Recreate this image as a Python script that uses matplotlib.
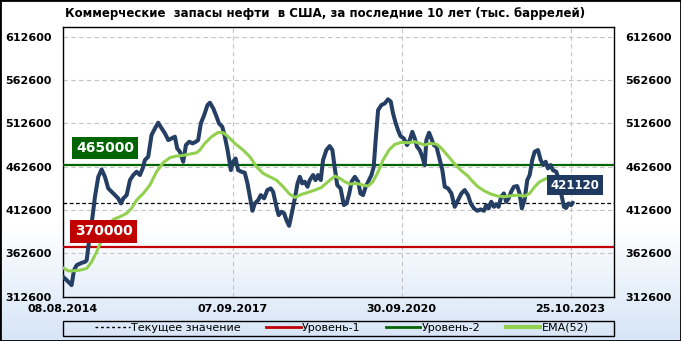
import matplotlib
matplotlib.use('Agg')
import matplotlib.pyplot as plt
import numpy as np
import pandas as pd
from matplotlib.colors import LinearSegmentedColormap
from matplotlib.lines import Line2D
from matplotlib.patches import Rectangle

plt.rcParams['font.family'] = ['DejaVu Sans']

title = "Коммерческие  запасы нефти  в США, за последние 10 лет (тыс. баррелей)"

stock_dates = [
    '2014-08-08', '2014-09-01', '2014-10-04', '2014-10-20', '2014-11-07', '2014-12-10',
    '2015-01-01', '2015-01-12', '2015-01-23', '2015-02-14', '2015-03-08', '2015-03-30', '2015-04-21',
    '2015-05-13', '2015-06-04', '2015-06-27', '2015-07-19', '2015-08-09', '2015-08-27', '2015-09-12',
    '2015-10-04', '2015-10-26', '2015-11-17', '2015-12-09', '2015-12-31',
    '2016-01-18', '2016-02-02', '2016-02-24', '2016-03-17', '2016-04-09', '2016-04-30', '2016-05-23',
    '2016-06-14', '2016-07-06', '2016-07-28', '2016-08-19', '2016-09-03', '2016-09-21', '2016-10-13',
    '2016-10-31', '2016-11-22', '2016-12-14', '2017-01-05',
    '2017-01-20', '2017-02-07', '2017-03-01', '2017-03-23', '2017-04-08', '2017-04-30', '2017-05-22',
    '2017-06-07', '2017-06-29', '2017-07-16', '2017-08-03', '2017-08-25', '2017-09-09', '2017-09-25',
    '2017-10-12', '2017-11-03', '2017-11-25', '2017-12-13', '2017-12-29',
    '2018-01-15', '2018-01-31', '2018-02-22', '2018-03-11', '2018-04-02', '2018-04-24', '2018-05-16',
    '2018-06-01', '2018-06-23', '2018-07-08', '2018-07-26', '2018-08-13', '2018-08-28', '2018-09-15',
    '2018-10-05', '2018-10-23', '2018-11-10', '2018-11-25', '2018-12-11', '2018-12-28',
    '2019-01-15', '2019-01-30', '2019-02-21', '2019-03-09', '2019-03-26', '2019-04-13', '2019-04-28',
    '2019-05-20', '2019-06-11',
    '2019-06-29', '2019-07-15', '2019-07-31', '2019-08-22', '2019-09-13', '2019-10-01', '2019-10-19',
    '2019-11-03', '2019-11-25', '2019-12-17',
    '2020-01-01', '2020-01-18', '2020-02-05', '2020-02-27', '2020-03-14', '2020-03-29', '2020-04-11',
    '2020-04-27', '2020-05-19', '2020-06-10', '2020-07-02', '2020-07-20', '2020-08-04', '2020-08-22',
    '2020-09-06', '2020-09-22', '2020-10-14', '2020-11-05', '2020-11-23', '2020-12-10', '2020-12-26',
    '2021-01-10', '2021-01-28', '2021-02-14', '2021-03-02', '2021-03-13', '2021-03-31', '2021-04-15',
    '2021-05-01', '2021-05-19', '2021-06-05', '2021-06-27', '2021-07-13', '2021-08-04', '2021-08-26',
    '2021-09-17', '2021-10-09', '2021-10-31', '2021-11-22', '2021-12-14',
    '2022-01-01', '2022-01-23', '2022-02-14', '2022-03-08', '2022-03-30', '2022-04-14', '2022-04-30',
    '2022-05-17', '2022-06-04', '2022-06-19', '2022-07-05', '2022-07-22', '2022-08-09', '2022-08-24',
    '2022-09-09', '2022-09-26', '2022-10-14', '2022-11-05', '2022-11-21', '2022-12-06', '2022-12-24',
    '2023-01-11', '2023-01-27', '2023-02-13', '2023-03-01', '2023-03-23', '2023-04-10', '2023-04-27',
    '2023-05-13', '2023-05-28', '2023-06-15', '2023-06-30', '2023-07-22', '2023-08-09', '2023-08-24',
    '2023-09-11', '2023-09-26', '2023-10-12', '2023-10-29', '2023-11-09',
]
stock_values = [
    335700, 331900, 326100, 343400, 349200, 351800,
    353000, 354900, 370300, 397200, 428000, 451000, 459500,
    451000, 437600, 433700, 429900, 426100, 420300, 426100,
    429900, 447200, 453000, 456800, 453000,
    460700, 470300, 474100, 499100, 506800, 513300, 506800,
    501000, 493300, 495200, 497200, 483700, 479900, 468300,
    487600, 491400, 489500, 491400,
    493300, 512600, 522200, 533700, 536400, 529900, 520300,
    512600, 508700, 497200, 481800, 458700, 468300, 472100,
    458700, 456800, 455700, 443400, 428000,
    411800, 420300, 424100, 429900, 426100, 435700, 437600,
    433700, 416400, 406800, 410700, 408800, 401100, 394500,
    410700, 426100, 443400, 451000, 443400, 445300,
    439500, 447200, 453000, 447200, 453000, 447200, 470300,
    481800, 486400,
    481800, 460700, 441400, 437600, 418400, 420300, 431800,
    445300, 451000, 445300,
    431800, 429900, 439500, 447200, 453000, 462600, 493300,
    527900, 533700, 535600, 540300, 537600, 524100, 512600,
    504900, 498000, 495200, 487600, 493300, 502800, 495200,
    485700, 481800, 474100, 464500, 493300, 501800, 495200,
    487600, 485700, 474100, 458700, 439500, 437600, 431800,
    416400, 424100, 431800, 435700, 429900,
    420300, 414500, 411800, 413400, 411800, 418400, 414500,
    422200, 416400, 419500, 416400, 428000, 431800, 422200,
    426100, 433700, 439500, 440300, 431800, 414500, 424100,
    447200, 453000, 470300, 479900, 481800, 470300, 464500,
    468300, 460700, 464500, 458700, 456800, 447200, 431800,
    416400, 415100, 420300, 418400, 421120,
]

ema_dates = [
    '2014-08-08', '2014-09-12', '2014-10-15', '2014-11-28', '2015-01-12', '2015-02-14', '2015-03-19',
    '2015-04-21', '2015-05-24', '2015-07-07', '2015-08-20', '2015-10-03', '2015-11-05', '2015-12-09',
    '2016-01-22', '2016-03-06', '2016-04-19', '2016-06-02', '2016-07-16', '2016-08-29', '2016-10-13',
    '2016-11-26', '2017-01-09', '2017-01-31', '2017-03-05', '2017-04-19', '2017-06-02', '2017-07-05',
    '2017-08-07', '2017-09-20', '2017-11-14', '2017-12-29', '2018-02-11', '2018-03-27', '2018-05-10',
    '2018-06-23', '2018-08-06', '2018-09-19', '2018-10-23', '2018-12-06', '2019-01-19', '2019-03-04',
    '2019-04-17', '2019-05-31', '2019-07-15', '2019-08-18', '2019-09-20', '2019-10-23', '2019-12-06',
    '2020-01-18', '2020-02-20', '2020-03-24', '2020-04-27', '2020-05-30', '2020-07-08', '2020-08-15',
    '2020-09-28', '2020-11-11', '2020-12-26', '2021-01-28', '2021-03-02', '2021-04-04', '2021-05-19',
    '2021-06-21', '2021-08-04', '2021-09-17', '2021-10-31', '2021-12-14', '2022-01-05', '2022-02-18',
    '2022-04-03', '2022-05-17', '2022-06-30', '2022-08-13', '2022-09-26', '2022-11-09', '2022-12-24',
    '2023-01-27', '2023-03-01', '2023-04-03', '2023-05-17', '2023-07-01', '2023-09-01', '2023-11-09',
]
ema_values = [
    346100, 342600, 342600, 343400, 345300, 353000, 364500,
    378000, 393400, 401800, 404900, 408800, 414500, 424100,
    431800, 441400, 456800, 467200, 473000, 474900, 475700,
    477200, 478700, 481800, 489500, 497200, 502200, 501800,
    497200, 489500, 481800, 474100, 462600, 454900, 451000,
    447200, 439500, 431000, 427200, 430700, 433000, 435700,
    438700, 445300, 451800, 449100, 445300, 442600, 443400,
    441400, 440300, 445300, 456800, 470300, 481800, 488300,
    490700, 490300, 491400, 489500, 487600, 489500, 488700,
    483700, 474900, 465700, 458000, 451800, 447200, 439500,
    434500, 431000, 428700, 428000, 429100, 429900, 428700,
    431800, 439500, 445300, 449100, 451000, 450500, 448000,
]

level_1 = 370000
level_2 = 465000
current_value = 421120

y_ticks = [312600, 362600, 412600, 462600, 512600, 562600, 612600]
x_tick_dates = ['2014-08-08', '2017-09-07', '2020-09-30', '2023-10-25']
x_range = ['2014-08-08', '2024-08-08']
legend_labels = ['Текущее значение', 'Уровень-1', 'Уровень-2', 'EMA(52)']

C_STOCK = '#243f63'
C_EMA = '#92d050'
C_L1 = '#c00000'
C_L2 = '#006400'

W, H = 681, 341
fig = plt.figure(figsize=(W / 100, H / 100), dpi=100)

# background gradient
bg = fig.add_axes([0, 0, 1, 1], zorder=-10)
bg.axis('off')
grad = np.linspace(0, 1, 256).reshape(-1, 1)
cmap = LinearSegmentedColormap.from_list('g', [(0, '#d6e5f7'), (0.34, '#ffffff'), (1, '#ffffff')])
bg.imshow(grad, aspect='auto', cmap=cmap, extent=[0, 1, 0, 1], origin='lower')
bg.set_xlim(0, 1)
bg.set_ylim(0, 1)

ax = fig.add_axes([63 / W, 1 - 297.3 / H, 551 / W, 270 / H])
ax.set_facecolor('none')

sd = pd.to_datetime(stock_dates)
ed = pd.to_datetime(ema_dates)

ax.axhline(level_2, color=C_L2, lw=1.6, zorder=3)
ax.axhline(level_1, color=C_L1, lw=1.6, zorder=3)
ax.axhline(current_value, color='black', lw=0.9, ls=(0, (3, 2)), zorder=3)

ax.plot(sd, stock_values, color=C_STOCK, lw=2.9, solid_joinstyle='round', solid_capstyle='round', zorder=4)
ax.plot(ed, ema_values, color=C_EMA, lw=2.2, solid_capstyle='round', zorder=5)

xt = pd.to_datetime(x_tick_dates)
ax.set_xticks(xt)
ax.set_xticklabels([d.strftime('%d.%m.%Y') for d in xt], fontweight='bold', fontsize=8)
ax.set_yticks(y_ticks)
ax.set_yticklabels([str(v) for v in y_ticks], fontweight='bold', fontsize=8)
ax.set_xlim(pd.to_datetime(x_range[0]), pd.to_datetime(x_range[1]))
ax.set_ylim(312100, 623300)

ax.grid(True, color='#c4c4c4', lw=0.8, ls=(0, (4, 3)), zorder=1)
ax.tick_params(axis='y', length=0, pad=8, labelleft=True, labelright=True)
ax.tick_params(axis='x', length=0, pad=5)
for s in ax.spines.values():
    s.set_color('black')
    s.set_linewidth(1)

# level labels
ax.annotate(f'{level_2}', xy=(0, level_2), xycoords=('axes fraction', 'data'),
            xytext=(42, 16.5), textcoords='offset pixels', ha='center', va='center',
            color='white', fontsize=10, fontweight='bold', zorder=7,
            bbox=dict(boxstyle='square,pad=0.3', fc=C_L2, ec='none'))
ax.annotate(f'{level_1}', xy=(0, level_1), xycoords=('axes fraction', 'data'),
            xytext=(40.5, 15.7), textcoords='offset pixels', ha='center', va='center',
            color='white', fontsize=10, fontweight='bold', zorder=7,
            bbox=dict(boxstyle='square,pad=0.3', fc=C_L1, ec='none'))
ax.annotate(f'{current_value}', xy=(sd[-1], stock_values[-1]), xycoords='data',
            xytext=(2, 17.5), textcoords='offset pixels', ha='center', va='center',
            color='white', fontsize=8.5, fontweight='bold', zorder=7,
            bbox=dict(boxstyle='square,pad=0.3', fc='#1f3a60', ec='none'))

fig.text(325 / W, 1 - 14 / H, title, ha='center', va='center', fontsize=8.5, fontweight='bold')

handles = [
    Line2D([], [], color='black', lw=1, ls=(0, (2, 2))),
    Line2D([], [], color=C_L1, lw=2),
    Line2D([], [], color=C_L2, lw=2),
    Line2D([], [], color=C_EMA, lw=3),
]
leg = fig.legend(handles, legend_labels, loc='center',
                 bbox_to_anchor=(342 / W, 1 - 328 / H),
                 ncol=4, frameon=False, fontsize=8, handlelength=3.1,
                 handletextpad=0.1, columnspacing=2.3, borderaxespad=0, borderpad=0)

# legend frame
fig.patches.append(Rectangle((63 / W, 1 - 336 / H), 551 / W, 15 / H, transform=fig.transFigure,
                             fill=False, edgecolor='black', lw=1))
# outer border
fig.patches.append(Rectangle((0, 0), 1, 1, transform=fig.transFigure, fill=False,
                             edgecolor='black', lw=2))

fig.savefig('out.png', dpi=100)
